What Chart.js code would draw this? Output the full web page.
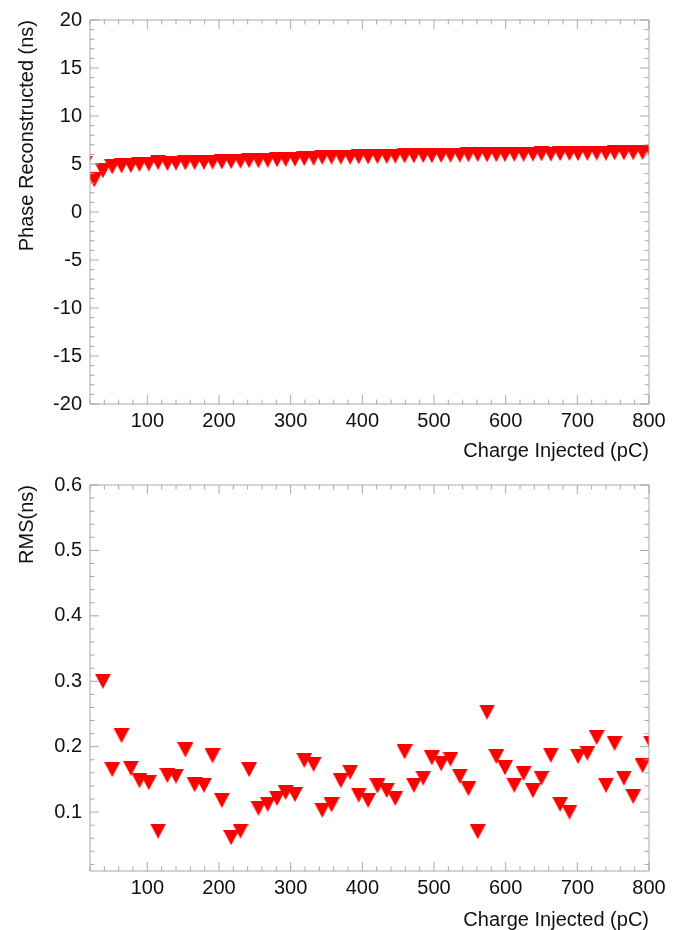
<!DOCTYPE html>
<html>
<head>
<meta charset="utf-8">
<title>Phase / RMS vs Charge Injected</title>
<script src="https://cdn.jsdelivr.net/npm/chart.js@4.4.1/dist/chart.umd.min.js"></script>
<style>
    html, body { margin: 0; padding: 0; background: #fff; }
    .panel { position: absolute; left: 0; width: 681px; height: 465px; }
    #topPanel { top: 0; }
    #bottomPanel { top: 465px; }
</style>
</head>
<body>
<div class="panel" id="topPanel"><canvas id="phaseChart" width="681" height="465"></canvas></div>
<div class="panel" id="bottomPanel"><canvas id="rmsChart" width="681" height="465"></canvas></div>
<script>
// === Data ===
const charge = [
    13, 26, 38, 51, 64, 77, 89, 102, 115, 128,
    140, 153, 166, 179, 191, 204, 217, 230, 242, 255,
    268, 281, 293, 306, 319, 332, 344, 357, 370, 383,
    395, 408, 421, 434, 446, 459, 472, 485, 497, 510,
    523, 536, 548, 561, 574, 587, 599, 612, 625, 638,
    650, 663, 676, 689, 701, 714, 727, 740, 752, 765,
    778, 791, 803
];

const phase = [
    5.1, 3.35, 4.3, 4.7, 4.8, 4.85, 4.95, 5.0, 5.15, 5.05,
    5.1, 5.12, 5.15, 5.18, 5.2, 5.22, 5.25, 5.28, 5.35, 5.34,
    5.38, 5.45, 5.48, 5.52, 5.56, 5.6, 5.7, 5.72, 5.72, 5.7,
    5.74, 5.74, 5.78, 5.79, 5.83, 5.84, 5.86, 5.88, 5.87, 5.9,
    5.92, 5.92, 5.96, 5.99, 5.97, 5.98, 6.0, 6.02, 6.01, 6.04,
    6.06, 6.04, 6.08, 6.1, 6.09, 6.11, 6.14, 6.13, 6.16, 6.17,
    6.17, 6.2, 6.24
];

const rms = [
    null, null,
    0.300, 0.165, 0.217, 0.167, 0.148, 0.145, 0.071, 0.156, 0.155, 0.195,
    0.142, 0.141, 0.186, 0.118, 0.061, 0.071, 0.165, 0.106, 0.112, 0.121,
    0.130, 0.127, 0.179, 0.173, 0.103, 0.111, 0.148, 0.161, 0.126, 0.118,
    0.140, 0.133, 0.121, 0.192, 0.141, 0.152, 0.183, 0.174, 0.181, 0.155,
    0.136, 0.070, 0.253, 0.185, 0.168, 0.141, 0.159, 0.133, 0.152, 0.187,
    0.112, 0.100, 0.185, 0.190, 0.214, 0.141, 0.205, 0.152, 0.124, 0.171,
    0.205
];

const chargeTicks = [100, 200, 300, 400, 500, 600, 700, 800];
const phaseTicks = [-20, -15, -10, -5, 0, 5, 10, 15, 20];
const rmsTicks = [0.1, 0.2, 0.3, 0.4, 0.5, 0.6];

// === Common look ===
const FONT = "'Liberation Sans', Arial, Helvetica, sans-serif";
const TEXT_COLOR = "#111";
const FRAME_COLOR = "#a8a8a8";

// downward red triangle, centred on its bounding box (like ROOT marker 23)
function makeTriangle(w, h, color) {
    const c = document.createElement("canvas");
    c.width = w;
    c.height = h;
    const g = c.getContext("2d");
    g.fillStyle = color;
    g.beginPath();
    g.moveTo(0, 0);
    g.lineTo(w, 0);
    g.lineTo(w / 2, h);
    g.closePath();
    g.fill();
    return c;
}
const marker = makeTriangle(16, 15, "#ff0000");

// === Frame with inward ticks on all four sides ===
const framePlugin = {
    id: "frame",
    afterDatasetsDraw(chart, args, opts) {
        const { ctx, chartArea: a, scales: { x, y } } = chart;
        const isMajor = (v, step) => Math.abs(v / step - Math.round(v / step)) < 1e-6;

        ctx.save();
        ctx.strokeStyle = FRAME_COLOR;
        ctx.lineWidth = 1;
        ctx.beginPath();
        ctx.rect(a.left, a.top, a.right - a.left, a.bottom - a.top);

        const nx = Math.round((x.max - opts.xStart) / opts.xStep);
        for (let i = 0; i <= nx; i++) {
            const v = opts.xStart + i * opts.xStep;
            const len = isMajor(v, opts.xMajor) ? 9 : 4.5;
            const px = x.getPixelForValue(v);
            ctx.moveTo(px, a.bottom);
            ctx.lineTo(px, a.bottom - len);
            ctx.moveTo(px, a.top);
            ctx.lineTo(px, a.top + len);
        }

        const ny = Math.round((y.max - opts.yStart) / opts.yStep);
        for (let i = 0; i <= ny; i++) {
            const v = opts.yStart + i * opts.yStep;
            const len = isMajor(v, opts.yMajor) ? 9 : 4.5;
            const py = y.getPixelForValue(v);
            ctx.moveTo(a.left, py);
            ctx.lineTo(a.left + len, py);
            ctx.moveTo(a.right, py);
            ctx.lineTo(a.right - len, py);
        }
        ctx.stroke();
        ctx.restore();
    }
};

// === Build one panel ===
function makePanel(canvasId, cfg) {
    const points = [];
    charge.forEach((c, i) => {
        if (cfg.values[i] !== null) points.push({ x: c, y: cfg.values[i] });
    });

    return new Chart(document.getElementById(canvasId), {
        type: "scatter",
        data: {
            datasets: [{
                data: points,
                pointStyle: marker,
                pointRadius: 9,
                clip: 0
            }]
        },
        plugins: [framePlugin],
        options: {
            responsive: false,
            animation: false,
            events: [],
            layout: { padding: { left: 0, right: 32, top: cfg.top, bottom: 0 } },
            plugins: {
                legend: { display: false },
                tooltip: { enabled: false },
                frame: cfg.frame
            },
            scales: {
                x: {
                    type: "linear",
                    min: 20,
                    max: 800,
                    afterBuildTicks: s => { s.ticks = chargeTicks.map(v => ({ value: v })); },
                    afterFit: s => { s.height = cfg.xHeight; },
                    grid: { display: false, drawTicks: false },
                    border: { display: false },
                    ticks: {
                        autoSkip: false,
                        maxRotation: 0,
                        padding: 5,
                        color: TEXT_COLOR,
                        font: { family: FONT, size: 20 },
                        callback: v => String(v)
                    },
                    title: {
                        display: true,
                        text: "Charge Injected (pC)",
                        align: "end",
                        color: TEXT_COLOR,
                        font: { family: FONT, size: 20, lineHeight: 1 },
                        padding: { top: 0, bottom: cfg.xTitlePad }
                    }
                },
                y: {
                    type: "linear",
                    min: cfg.yMin,
                    max: cfg.yMax,
                    afterBuildTicks: s => { s.ticks = cfg.yTicks.map(v => ({ value: v })); },
                    afterFit: s => { s.width = 90; },
                    grid: { display: false, drawTicks: false },
                    border: { display: false },
                    ticks: {
                        padding: 8,
                        color: TEXT_COLOR,
                        font: { family: FONT, size: 20 },
                        callback: cfg.yFormat
                    },
                    title: {
                        display: true,
                        text: cfg.yTitle,
                        align: "end",
                        color: TEXT_COLOR,
                        font: { family: FONT, size: 20, lineHeight: 1 },
                        padding: { top: 17, bottom: 0 }
                    }
                }
            }
        }
    });
}

// === Horní panel: fáze ===
makePanel("phaseChart", {
    values: phase,
    yMin: -20,
    yMax: 20,
    yTicks: phaseTicks,
    yFormat: v => String(v),
    yTitle: "Phase Reconstructed (ns)",
    top: 12.5,
    xHeight: 61,
    xTitlePad: 4,
    frame: { xStart: 20, xStep: 20, xMajor: 100, yStart: -20, yStep: 1, yMajor: 5 }
});

// === Dolní panel: RMS ===
makePanel("rmsChart", {
    values: rms,
    yMin: 0.01,
    yMax: 0.6,
    yTicks: rmsTicks,
    yFormat: v => v.toFixed(1),
    yTitle: "RMS(ns)",
    top: 14,
    xHeight: 59,
    xTitlePad: 0,
    frame: { xStart: 20, xStep: 20, xMajor: 100, yStart: 0.02, yStep: 0.02, yMajor: 0.1 }
});
</script>
</body>
</html>
